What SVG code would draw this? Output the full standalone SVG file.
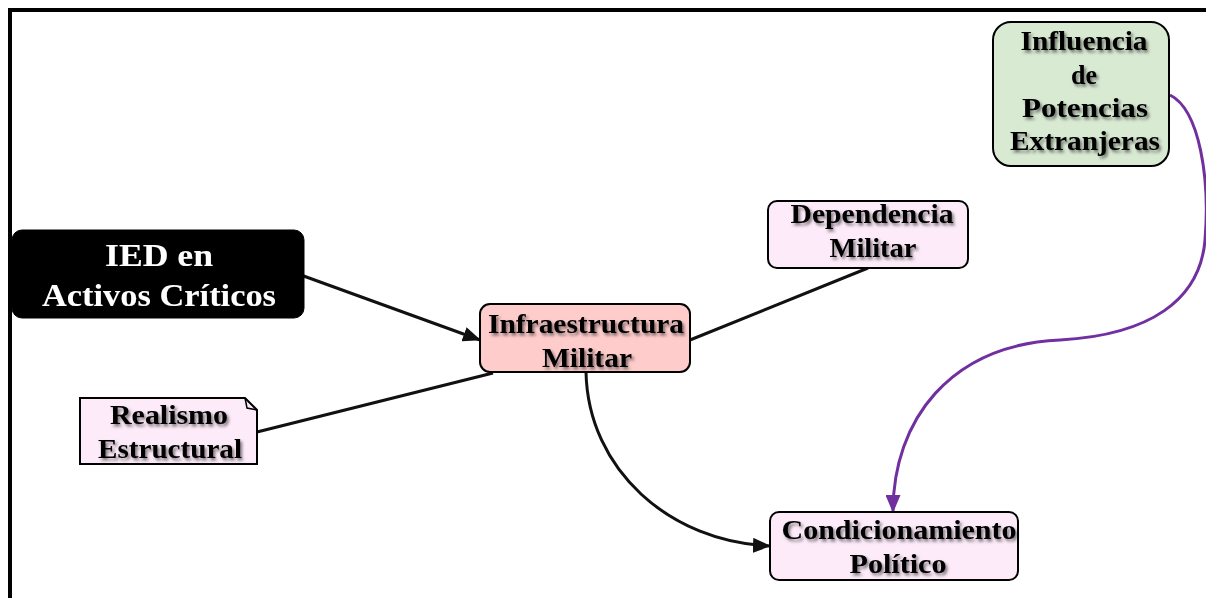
<svg xmlns="http://www.w3.org/2000/svg" width="1206" height="598" viewBox="0 0 1206 598">
<style>
.t{font-family:"Liberation Serif","Times New Roman",serif;font-weight:bold;font-size:28px;fill:#000;text-anchor:middle;filter:url(#sh)}
.w{fill:#fff;font-size:32px}
.box{stroke:#000;stroke-width:2}
.pink{fill:#fdebf9}
.ln{fill:none;stroke:#111;stroke-width:3}
</style>
<defs>
<filter id="sh" x="-10%" y="-30%" width="130%" height="170%">
<feDropShadow dx="2" dy="2.5" stdDeviation="1.4" flood-color="#000" flood-opacity="0.5"/>
</filter>
<marker id="ab" markerWidth="18" markerHeight="15" refX="17" refY="7.5" orient="auto" markerUnits="userSpaceOnUse" viewBox="0 0 18 15">
<path d="M0,0 L18,7.5 L0,15 z" fill="#111"/>
</marker>
<marker id="ap" markerWidth="18" markerHeight="15" refX="17" refY="7.5" orient="auto" markerUnits="userSpaceOnUse" viewBox="0 0 18 15">
<path d="M0,0 L18,7.5 L0,15 z" fill="#7030a0"/>
</marker>
</defs>
<rect width="1206" height="598" fill="#fff"/>
<rect x="10" y="10" width="1220" height="620" fill="none" stroke="#000" stroke-width="4"/>
<g id="connectors">
<path class="ln" d="M265,262 L480,340" marker-end="url(#ab)"/>
<path class="ln" d="M257,432 L493,373"/>
<path class="ln" d="M690,340 L868,268"/>
<path class="ln" d="M586,372 C588,470 670,542 770,546" marker-end="url(#ab)"/>
<path d="M1170,95 C1200,110 1210,180 1205,240 C1200,300 1150,335 1060,340 C950,345 893,420 893,512" fill="none" stroke="#7030a0" stroke-width="3" marker-end="url(#ap)"/>
</g>
<g id="ied">
<rect x="12" y="230" width="292" height="88" rx="10" fill="#000" stroke="#000"/>
<text class="t w" x="159" y="266" textLength="108" lengthAdjust="spacingAndGlyphs">IED en</text>
<text class="t w" x="159" y="306" textLength="234" lengthAdjust="spacingAndGlyphs">Activos Críticos</text>
</g>
<g id="realismo">
<path class="box pink" d="M80,398 L245,398 L257,410 L257,464 L80,464 z"/>
<path d="M245,398 L247,408 L257,410" fill="none" stroke="#000" stroke-width="1.5"/>
<text class="t" x="169" y="424" textLength="118" lengthAdjust="spacingAndGlyphs">Realismo</text>
<text class="t" x="170" y="458" textLength="144" lengthAdjust="spacingAndGlyphs">Estructural</text>
</g>
<g id="infra">
<rect class="box" x="480" y="304" width="210" height="68" rx="10" fill="#ffcccc"/>
<text class="t" x="586" y="333" textLength="196" lengthAdjust="spacingAndGlyphs">Infraestructura</text>
<text class="t" x="587" y="367" textLength="90" lengthAdjust="spacingAndGlyphs">Militar</text>
</g>
<g id="dependencia">
<rect class="box pink" x="768" y="201" width="200" height="67" rx="9"/>
<text class="t" x="872" y="223" textLength="163" lengthAdjust="spacingAndGlyphs">Dependencia</text>
<text class="t" x="873" y="257" textLength="87" lengthAdjust="spacingAndGlyphs">Militar</text>
</g>
<g id="influencia">
<rect class="box" x="993" y="22" width="176" height="144" rx="18" fill="#d9ead3"/>
<text class="t" x="1084" y="50" textLength="127" lengthAdjust="spacingAndGlyphs">Influencia</text>
<text class="t" x="1084" y="84" textLength="26" lengthAdjust="spacingAndGlyphs">de</text>
<text class="t" x="1085" y="117" textLength="126" lengthAdjust="spacingAndGlyphs">Potencias</text>
<text class="t" x="1085" y="150" textLength="150" lengthAdjust="spacingAndGlyphs">Extranjeras</text>
</g>
<g id="condicionamiento">
<rect class="box pink" x="770" y="512" width="248" height="68" rx="9"/>
<text class="t" x="899" y="539" textLength="235" lengthAdjust="spacingAndGlyphs">Condicionamiento</text>
<text class="t" x="898" y="573" textLength="97" lengthAdjust="spacingAndGlyphs">Político</text>
</g>
</svg>
